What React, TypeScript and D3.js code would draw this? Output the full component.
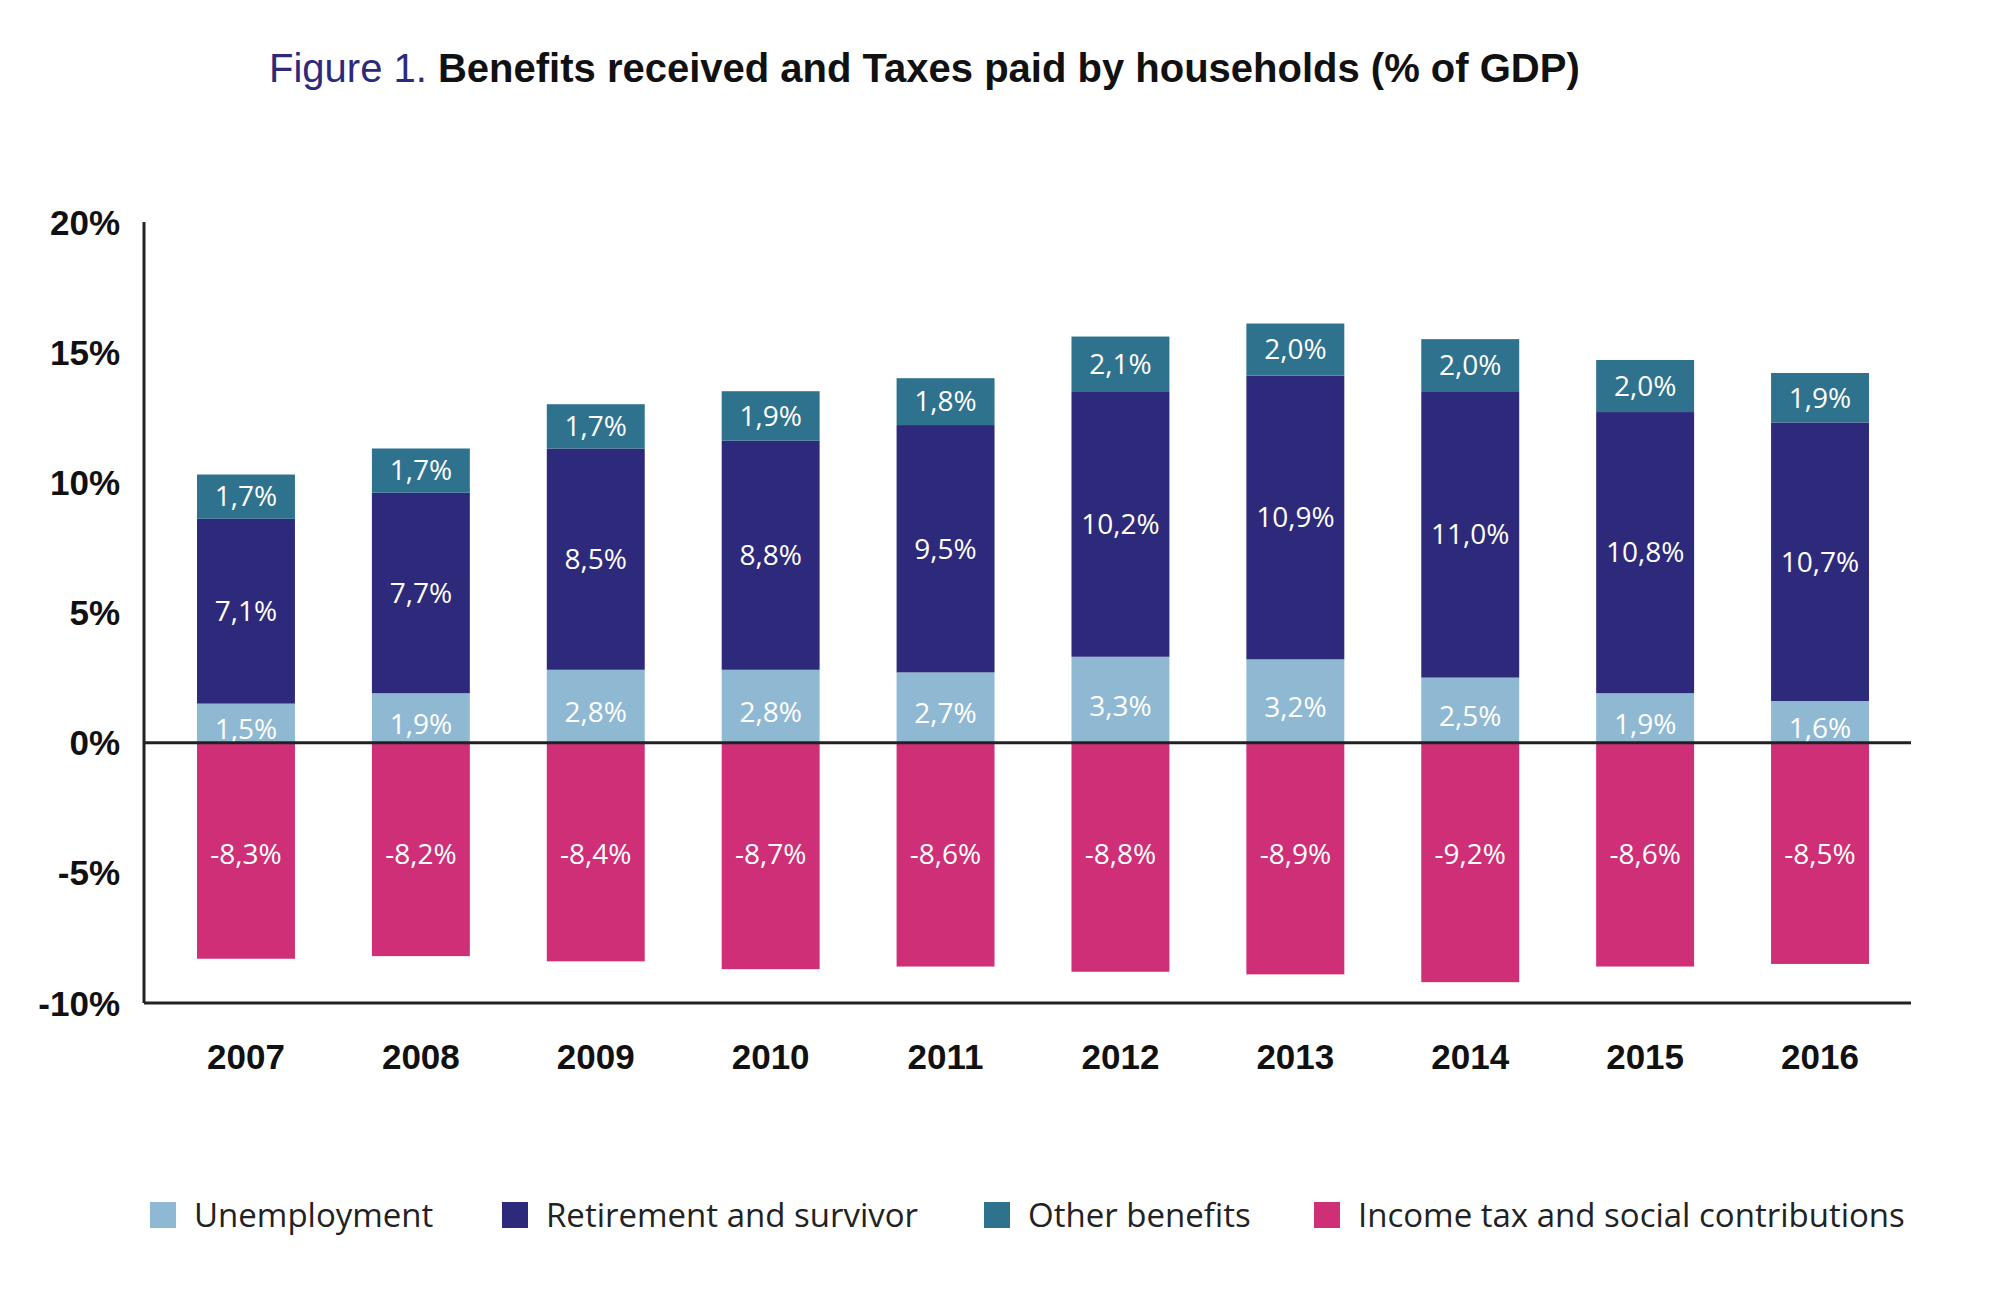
import * as d3 from 'd3';

const years = ['2007', '2008', '2009', '2010', '2011', '2012', '2013', '2014', '2015', '2016'];
const unemployment = [1.5, 1.9, 2.8, 2.8, 2.7, 3.3, 3.2, 2.5, 1.9, 1.6];
const retirement = [7.1, 7.7, 8.5, 8.8, 9.5, 10.2, 10.9, 11.0, 10.8, 10.7];
const other = [1.7, 1.7, 1.7, 1.9, 1.8, 2.1, 2.0, 2.0, 2.0, 1.9];
const incomeTax = [-8.3, -8.2, -8.4, -8.7, -8.6, -8.8, -8.9, -9.2, -8.6, -8.5];
const yTicks = [20, 15, 10, 5, 0, -5, -10];

const colors = {
  unemployment: '#8fb9d3',
  retirement: '#2e2a7b',
  other: '#2f728e',
  income: '#cf2f77',
};

const legend = [
  { label: 'Unemployment', color: colors.unemployment, x: 150 },
  { label: 'Retirement and survivor', color: colors.retirement, x: 502 },
  { label: 'Other benefits', color: colors.other, x: 984 },
  { label: 'Income tax and social contributions', color: colors.income, x: 1314 },
];

const fmt = (v: number) => v.toFixed(1).replace('.', ',') + '%';

export default function App() {
  const W = 2000, H = 1312;
  const axisX = 144, axisRight = 1911;
  const y = d3.scaleLinear().domain([-10, 20]).range([1003, 222]);
  const x = d3.scaleBand().domain(years).range([197, 1869]).paddingInner(0.44).paddingOuter(0);
  const bw = x.bandwidth();
  const labelFont = '"Open Sans", sans-serif';

  return (
    <svg width={W} height={H} style={{ display: 'block', margin: -8 }}>
      <rect width={W} height={H} fill="#fff" />
      <text x={269} y={82} fontFamily='"Liberation Sans", Arial, sans-serif' fontSize={40}>
        <tspan fill="#2e2a7b">Figure 1. </tspan>
        <tspan fontWeight="bold" fill="#111">Benefits received and Taxes paid by households (% of GDP)</tspan>
      </text>

      {yTicks.map(t => (
        <text key={t} x={120} y={y(t)} dy="0.36em" textAnchor="end"
          fontFamily='"Liberation Sans", Arial, sans-serif' fontWeight="bold" fontSize={35} fill="#111">
          {t}%
        </text>
      ))}

      {years.map((yr, i) => {
        const x0 = x(yr)!;
        const u0 = y(0), u1 = y(unemployment[i]);
        const r1 = y(unemployment[i] + retirement[i]);
        const o1 = y(unemployment[i] + retirement[i] + other[i]);
        const n1 = y(incomeTax[i]);
        const cx = x0 + bw / 2;
        return (
          <g key={yr}>
            <rect x={x0} y={u1} width={bw} height={u0 - u1} fill={colors.unemployment} />
            <rect x={x0} y={r1} width={bw} height={u1 - r1} fill={colors.retirement} />
            <rect x={x0} y={o1} width={bw} height={r1 - o1} fill={colors.other} />
            <rect x={x0} y={u0} width={bw} height={n1 - u0} fill={colors.income} />
            <g fontFamily={labelFont} fontSize={28} fill="#fff" textAnchor="middle">
              <text x={cx} y={u1 + Math.max(u0 - u1, 40) / 2 + 6} dy="0.35em">{fmt(unemployment[i])}</text>
              <text x={cx} y={(u1 + r1) / 2} dy="0.35em">{fmt(retirement[i])}</text>
              <text x={cx} y={(r1 + o1) / 2} dy="0.35em">{fmt(other[i])}</text>
              <text x={cx} y={y(-4.3)} dy="0.35em">{fmt(incomeTax[i])}</text>
            </g>
            <text x={cx} y={1057} dy="0.35em" textAnchor="middle"
              fontFamily='"Liberation Sans", Arial, sans-serif' fontWeight="bold" fontSize={35} fill="#111">{yr}</text>
          </g>
        );
      })}

      <line x1={axisX} x2={axisX} y1={222} y2={y(-10)} stroke="#222" strokeWidth={3} />
      <line x1={axisX} x2={axisRight} y1={y(-10)} y2={y(-10)} stroke="#222" strokeWidth={3} />
      <line x1={axisX} x2={axisRight} y1={y(0)} y2={y(0)} stroke="#222" strokeWidth={3} />

      {legend.map(l => (
        <g key={l.label}>
          <rect x={l.x} y={1202} width={26} height={26} fill={l.color} />
          <text x={l.x + 44} y={1215} dy="0.35em" fontFamily={labelFont} fontSize={33} fill="#222">{l.label}</text>
        </g>
      ))}
    </svg>
  );
}
